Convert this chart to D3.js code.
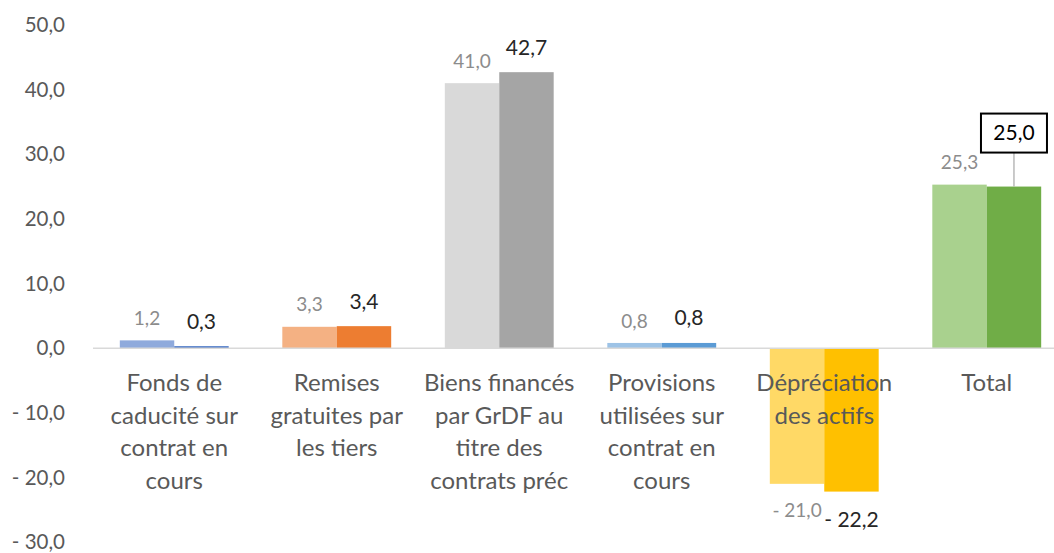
<!DOCTYPE html>
<html>
<head>
<meta charset="utf-8">
<script src="https://cdn.jsdelivr.net/npm/d3@7"></script>
<style>
  html, body { margin: 0; padding: 0; background: #fff; }
  svg { display: block; font-family: "Lato", "Open Sans", sans-serif; }
</style>
</head>
<body>
<svg id="chart" width="1054" height="553"></svg>
<script>
// Categories and the two compared series
const categories = [
  "Fonds de caducité sur contrat en cours",
  "Remises gratuites par les tiers",
  "Biens financés par GrDF au titre des contrats préc",
  "Provisions utilisées sur contrat en cours",
  "Dépréciation des actifs",
  "Total"
];
const categoryLines = [
  ["Fonds de", "caducité sur", "contrat en", "cours"],
  ["Remises", "gratuites par", "les tiers"],
  ["Biens financés", "par GrDF au", "titre des", "contrats préc"],
  ["Provisions", "utilisées sur", "contrat en", "cours"],
  ["Dépréciation", "des actifs"],
  ["Total"]
];
const seriesA = [1.2, 3.3, 41.0, 0.8, -21.0, 25.3];
const seriesB = [0.3, 3.4, 42.7, 0.8, -22.2, 25.0];
const yTicks = [-30, -20, -10, 0, 10, 20, 30, 40, 50];

// Light / dark tones per category
const lightColors = ["#8faadc", "#f4b183", "#d9d9d9", "#9dc3e6", "#ffd966", "#a9d18e"];
const darkColors  = ["#4472c4", "#ed7d31", "#a5a5a5", "#5b9bd5", "#ffc000", "#70ad47"];

const svg = d3.select("#chart");

const x = d3.scaleBand().domain(categories).range([93, 1068]).paddingInner(0.33).paddingOuter(0.165);
const xSub = d3.scaleBand().domain(["a", "b"]).range([0, x.bandwidth()]);
const y = d3.scaleLinear().domain([-30, 50]).range([542, 25]);

const fmt = v => {
  const s = d3.format(".1f")(Math.abs(v)).replace(".", ",");
  return v < 0 ? "- " + s : s;
};

// Y axis labels (no line, no ticks)
svg.append("g")
  .selectAll("text")
  .data(yTicks)
  .join("text")
  .attr("x", 65)
  .attr("y", d => y(d))
  .attr("dy", "0.35em")
  .attr("text-anchor", "end")
  .attr("fill", "#595959")
  .style("font-size", "20.5px")
  .text(d => fmt(d));

// Bars
const groups = svg.append("g")
  .selectAll("g")
  .data(categories)
  .join("g")
  .attr("transform", d => `translate(${x(d)},0)`);

groups.append("rect")
  .attr("x", xSub("a"))
  .attr("width", xSub.bandwidth())
  .attr("y", (d, i) => y(Math.max(0, seriesA[i])))
  .attr("height", (d, i) => Math.abs(y(seriesA[i]) - y(0)))
  .attr("fill", (d, i) => lightColors[i]);

groups.append("rect")
  .attr("x", xSub("b"))
  .attr("width", xSub.bandwidth())
  .attr("y", (d, i) => y(Math.max(0, seriesB[i])))
  .attr("height", (d, i) => Math.abs(y(seriesB[i]) - y(0)))
  .attr("fill", (d, i) => darkColors[i]);

// Zero axis line
svg.append("line")
  .attr("x1", 93).attr("x2", 1054)
  .attr("y1", y(0)).attr("y2", y(0))
  .attr("stroke", "#d9d9d9")
  .attr("stroke-width", 1.5);

// Category labels below the zero line
groups.append("text")
  .attr("text-anchor", "middle")
  .attr("fill", "#595959")
  .style("font-size", "24px")
  .attr("transform", `translate(${x.bandwidth() / 2},0)`)
  .selectAll("tspan")
  .data((d, i) => categoryLines[i])
  .join("tspan")
  .attr("x", 0)
  .attr("y", (d, j) => 391 + j * 32.5)
  .text(d => d);

// Data labels, first series
groups.append("text")
  .attr("x", xSub("a") + xSub.bandwidth() / 2)
  .attr("y", (d, i) => seriesA[i] >= 0 ? y(seriesA[i]) - 22 : y(seriesA[i]) + 27)
  .attr("dy", "0.35em")
  .attr("text-anchor", "middle")
  .attr("fill", "#8c8c8c")
  .style("font-size", "19px")
  .text((d, i) => fmt(seriesA[i]));

// Data labels, second series (last one is a boxed callout)
const last = categories.length - 1;
groups.filter((d, i) => i !== last).append("text")
  .attr("x", xSub("b") + xSub.bandwidth() / 2)
  .attr("y", d => {
    const v = seriesB[categories.indexOf(d)];
    return v >= 0 ? y(v) - 25 : y(v) + 28;
  })
  .attr("dy", "0.35em")
  .attr("text-anchor", "middle")
  .attr("fill", "#262626")
  .style("font-size", "21px")
  .text(d => fmt(seriesB[categories.indexOf(d)]));

const totalG = groups.filter((d, i) => i === last);
const cx = xSub("b") + xSub.bandwidth() / 2;
const boxBottom = y(seriesB[last]) - 34;
totalG.append("line")
  .attr("x1", cx).attr("x2", cx)
  .attr("y1", y(seriesB[last])).attr("y2", boxBottom)
  .attr("stroke", "#a6a6a6")
  .attr("stroke-width", 1.2);
totalG.append("rect")
  .attr("x", cx - 33)
  .attr("y", boxBottom - 39)
  .attr("width", 66)
  .attr("height", 39)
  .attr("fill", "#fff")
  .attr("stroke", "#000")
  .attr("stroke-width", 2);
totalG.append("text")
  .attr("x", cx)
  .attr("y", boxBottom - 19.5)
  .attr("dy", "0.35em")
  .attr("text-anchor", "middle")
  .attr("fill", "#000")
  .style("font-size", "21px")
  .text(fmt(seriesB[last]));
</script>
</body>
</html>
